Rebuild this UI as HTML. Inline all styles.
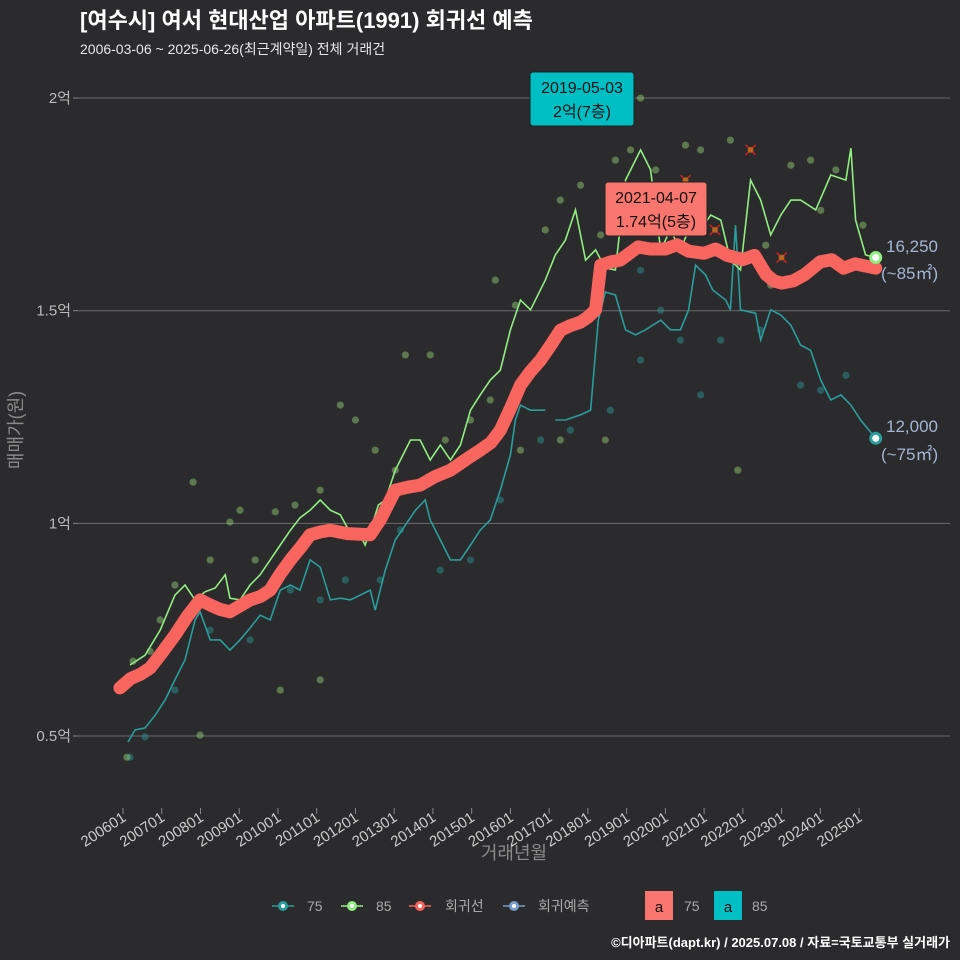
<!DOCTYPE html>
<html><head><meta charset="utf-8"><style>
body{margin:0;background:#2b2b2d;}
svg{display:block;font-family:"Liberation Sans","Noto Sans CJK KR",sans-serif;}
</style></head><body>
<svg id="chart" width="960" height="960" viewBox="0 0 960 960" xmlns="http://www.w3.org/2000/svg">
<rect width="960" height="960" fill="#2b2b2d"/>
<text x="80" y="28" fill="#ffffff" font-size="22" font-weight="bold">[여수시] 여서 현대산업 아파트(1991) 회귀선 예측</text>
<text x="80" y="54" fill="#e6e6e6" font-size="14">2006-03-06 ~ 2025-06-26(최근계약일) 전체 거래건</text>
<text transform="translate(22,430) rotate(-90)" text-anchor="middle" fill="#8a8a8a" font-size="18">매매가(원)</text>
<text x="514" y="859" text-anchor="middle" fill="#8a8a8a" font-size="18">거래년월</text>
<g id="grid"></g>
<g id="yaxis"></g>
<g id="xaxis"></g>
<g id="marks"></g>
<g id="legend" font-size="14">
  <g>
    <line x1="272" y1="906" x2="294" y2="906" stroke="#2a9d9d" stroke-width="1.5"/><circle cx="283" cy="906" r="5" fill="#2a9d9d"/><circle cx="283" cy="906" r="2" fill="#fff"/>
    <text x="307" y="911" fill="#aaa">75</text></g>
  <g>
    <line x1="341" y1="906" x2="363" y2="906" stroke="#90ee80" stroke-width="1.5"/><circle cx="352" cy="906" r="5" fill="#90ee80"/><circle cx="352" cy="906" r="2" fill="#fff"/>
    <text x="376" y="911" fill="#aaa">85</text></g>
  <g>
    <line x1="409" y1="906" x2="431" y2="906" stroke="#f8645e" stroke-width="1.5"/><circle cx="420" cy="906" r="5" fill="#f8645e"/><circle cx="420" cy="906" r="2" fill="#fff"/>
    <text x="445" y="911" fill="#aaa">회귀선</text></g>
  <g>
    <line x1="503" y1="906" x2="525" y2="906" stroke="#7b9cc8" stroke-width="1.5"/><circle cx="514" cy="906" r="5" fill="#7b9cc8"/><circle cx="514" cy="906" r="2" fill="#fff"/>
    <text x="538" y="911" fill="#aaa">회귀예측</text></g>
  <g>
    <rect x="645" y="891" width="28" height="29" fill="#f8766d"/><text x="659" y="912" text-anchor="middle" fill="#111" font-size="15">a</text>
    <text x="684" y="911" fill="#aaa">75</text></g>
  <g>
    <rect x="714" y="891" width="28" height="29" fill="#00bfc4"/><text x="728" y="912" text-anchor="middle" fill="#111" font-size="15">a</text>
    <text x="752" y="911" fill="#aaa">85</text></g>
</g>
<text x="950" y="947" text-anchor="end" fill="#ffffff" font-size="13" font-weight="bold">©디아파트(dapt.kr) / 2025.07.08 / 자료=국토교통부 실거래가</text>
</svg>
<script>
const yTicks=[5000,10000,15000,20000];
const yTickLabels=["0.5억","1억","1.5억","2억"];
const xTickYears=[2006,2007,2008,2009,2010,2011,2012,2013,2014,2015,2016,2017,2018,2019,2020,2021,2022,2023,2024,2025];
const regDates=[2005.92,2006.20,2006.45,2006.70,2007.00,2007.34,2007.65,2007.99,2008.25,2008.50,2008.76,2009.00,2009.28,2009.55,2009.80,2010.05,2010.32,2010.60,2010.83,2011.10,2011.35,2011.80,2012.38,2012.64,2013.03,2013.35,2013.67,2014.05,2014.45,2014.85,2015.22,2015.50,2015.74,2016.00,2016.26,2016.50,2016.78,2017.05,2017.29,2017.55,2017.81,2018.00,2018.20,2018.33,2018.60,2018.84,2019.00,2019.30,2019.60,2020.00,2020.30,2020.60,2021.00,2021.30,2021.60,2022.00,2022.30,2022.60,2022.80,2023.00,2023.30,2023.60,2024.00,2024.30,2024.60,2024.90,2025.43];
const regVals=[6130,6350,6450,6600,6950,7370,7800,8200,8080,7980,7920,8050,8200,8280,8430,8800,9140,9450,9730,9800,9840,9760,9730,10080,10780,10850,10900,11100,11250,11500,11720,11900,12190,12700,13250,13550,13840,14200,14540,14650,14730,14850,15020,16070,16150,16190,16300,16500,16450,16450,16550,16400,16350,16450,16300,16200,16300,15850,15700,15650,15700,15850,16150,16200,16000,16100,16000];
const g85Dates=[2006.18,2006.57,2006.96,2007.34,2007.60,2007.86,2008.12,2008.38,2008.64,2008.76,2009.02,2009.28,2009.54,2009.80,2010.06,2010.32,2010.57,2010.83,2011.09,2011.35,2011.61,2011.87,2012.12,2012.25,2012.43,2012.59,2012.77,2013.03,2013.16,2013.42,2013.67,2013.93,2014.19,2014.45,2014.71,2014.97,2015.22,2015.48,2015.74,2016.0,2016.26,2016.52,2016.90,2017.16,2017.42,2017.68,2017.94,2018.20,2018.45,2018.71,2018.97,2019.36,2019.62,2019.88,2020.13,2020.39,2020.65,2020.91,2021.17,2021.43,2021.68,2021.94,2022.20,2022.46,2022.72,2022.98,2023.24,2023.49,2023.88,2024.27,2024.66,2024.79,2024.91,2025.17,2025.43];
const g85Vals=[6670,6900,7490,8310,8550,8200,8390,8480,8790,8240,8200,8550,8790,9140,9490,9840,10130,10310,10550,10310,10200,9770,9730,9490,9960,10430,10550,11250,11490,11960,11960,11490,11840,11490,11840,12660,13020,13370,13600,14550,15250,15020,15720,16310,16660,17370,16190,16430,16000,15960,18070,18780,18310,16430,16900,16430,17010,16900,17250,17130,16190,15960,18070,17600,16780,17250,17600,17600,17370,18190,18070,18820,17130,16310,16250];
const t75Dates=[2006.13,2006.31,2006.57,2006.83,2007.09,2007.34,2007.60,2007.86,2007.99,2008.25,2008.51,2008.76,2009.02,2009.28,2009.54,2009.80,2010.06,2010.32,2010.57,2010.83,2011.09,2011.35,2011.61,2011.87,2012.12,2012.38,2012.51,2012.64,2012.77,2013.03,2013.29,2013.55,2013.80,2013.93,2014.19,2014.45,2014.71,2014.97,2015.22,2015.48,2015.74,2016.0,2016.13,2016.26,2016.52,2016.90,2017.03,2017.16,2017.42,2017.81,2018.07,2018.27,2018.45,2018.71,2018.97,2019.23,2019.49,2019.88,2020.13,2020.39,2020.60,2020.78,2021.04,2021.22,2021.56,2021.68,2021.81,2021.94,2022.33,2022.46,2022.72,2022.98,2023.24,2023.49,2023.75,2024.01,2024.27,2024.53,2024.79,2025.04,2025.43];
const t75Vals=[4860,5140,5190,5490,5850,6320,6790,7730,7920,7260,7260,7020,7260,7540,7840,7730,8430,8550,8430,9140,8970,8200,8240,8200,8310,8430,7960,8430,8900,9610,9960,10310,10550,10080,9610,9140,9140,9490,9840,10080,10780,11610,12430,12780,12660,12660,null,12430,12430,12550,12660,14780,15440,15370,14550,14430,14550,14780,14550,14550,15020,16070,15840,15490,15250,15020,17010,15020,14940,14310,15020,14900,14660,14190,14070,13370,12900,13020,12780,12430,12000];
const s85Dates=[2006.26,2006.70,2006.96,2007.34,2007.81,2008.25,2008.76,2009.02,2009.41,2009.93,2010.44,2011.09,2011.61,2012.0,2012.51,2013.03,2013.29,2013.93,2014.32,2014.97,2015.48,2015.61,2016.13,2016.90,2017.29,2017.81,2018.45,2018.71,2019.10,2019.36,2019.75,2020.52,2020.91,2021.68,2021.87,2022.59,2023.24,2023.75,2024.40,2025.10,2007.99,2010.06,2011.09,2006.10,2016.26,2017.29,2018.33,2020.91,2022.72,2024.01];
const s85Vals=[6760,6990,7730,8550,10970,9140,10030,10310,9140,10270,10430,10780,12780,12430,11720,11250,13960,13960,11960,12430,12900,15720,15130,16900,17600,17950,11960,18540,18780,20000,18310,18890,18780,19010,11250,16540,18420,18540,18310,17010,5020,6080,6320,4500,11720,11960,16780,16310,15600,17360];
const s75Dates=[2006.18,2006.57,2007.34,2008.25,2009.28,2010.32,2011.09,2011.74,2012.64,2013.16,2014.19,2014.97,2015.74,2016.78,2017.55,2018.58,2019.36,2019.88,2020.39,2021.43,2022.46,2023.49,2024.01,2024.66,2019.36,2020.91];
const s75Vals=[4500,4980,6080,7490,7260,8430,8200,8670,8670,9840,8900,9140,10550,11960,12190,12660,13840,15010,14310,14310,14540,13250,13130,13480,15950,13020];
const crossDates=[2020.52,2022.20,2021.28,2023.00];
const crossVals=[18070,18780,16900,16250];

const X=y=>123+(y-2006)*38.74;
const Y=v=>736-(v-5000)*0.04253;
const NS="http://www.w3.org/2000/svg";
function mk(tag,attrs,parent){const e=document.createElementNS(NS,tag);for(const k in attrs)e.setAttribute(k,attrs[k]);parent.appendChild(e);return e;}
const grid=document.getElementById('grid'),yax=document.getElementById('yaxis'),xax=document.getElementById('xaxis'),marks=document.getElementById('marks');
yTicks.forEach((v,i)=>{
  const l=mk('line',{x1:78,x2:950,y1:Y(v),y2:Y(v),stroke:'#6a6a6a','stroke-width':1},grid);
  
  
  mk('line',{x1:73,x2:78,y1:Y(v),y2:Y(v),stroke:'#888'},yax);
  const t=mk('text',{x:71,y:Y(v)+5,'text-anchor':'end',fill:'#bbb','font-size':15},yax);
  t.textContent=yTickLabels[i];
  
  
});
xTickYears.forEach(yr=>{
  const x=X(yr);
  mk('line',{x1:x,x2:x,y1:808,y2:814,stroke:'#888'},xax);
  const t=mk('text',{transform:`translate(${x+4},820) rotate(-33)`,'text-anchor':'end',fill:'#ccc','font-size':15},xax);
  t.textContent=yr+'01';
  
  
});
function pathOf(ds,vs){let d='',pen=false;ds.forEach((t,i)=>{const v=vs[i];if(v==null){pen=false;return;}d+=(pen?'L':'M')+X(t).toFixed(1)+','+Y(v).toFixed(1);pen=true;});return d;}
s75Dates.forEach((t,i)=>{const c=mk('circle',{cx:X(t),cy:Y(s75Vals[i]),r:3.6,fill:'#2a8f8f','fill-opacity':0.5},marks);
  
  });
s85Dates.forEach((t,i)=>{const c=mk('circle',{cx:X(t),cy:Y(s85Vals[i]),r:3.6,fill:'#9bd47a','fill-opacity':0.45},marks);
  
  });
const pT=mk('path',{d:pathOf(t75Dates,t75Vals),fill:'none',stroke:'#2a9d9d','stroke-width':1.6},marks);


const pG=mk('path',{d:pathOf(g85Dates,g85Vals),fill:'none',stroke:'#90ee80','stroke-width':1.6},marks);


const pR=mk('path',{d:pathOf(regDates,regVals),fill:'none',stroke:'#f8645e','stroke-width':13,'stroke-linejoin':'round','stroke-linecap':'round'},marks);


crossDates.forEach((t,i)=>{const x=X(t),y=Y(crossVals[i]);
  const g=mk('path',{d:`M${x-5},${y-5}L${x+5},${y+5}M${x-5},${y+5}L${x+5},${y-5}`,stroke:'#d02020','stroke-width':1.5,fill:'none'},marks);
  
  
  mk('circle',{cx:x,cy:y,r:3,fill:'#c8801a','fill-opacity':0.7},marks);});
function endDot(ds,vs,col,nm){const n=ds.length-1;const c=mk('circle',{cx:X(ds[n]),cy:Y(vs[n]),r:6.5,fill:col},marks);
  
  
  mk('circle',{cx:X(ds[n]),cy:Y(vs[n]),r:3.5,fill:'#fff'},marks);}
endDot(g85Dates,g85Vals,'#90ee80','end-point-85');
endDot(t75Dates,t75Vals,'#2a9d9d','end-point-75');
function lab(x,y,s,nm){const t=mk('text',{x:x,y:y,fill:'#a3b5d3','font-size':17},marks);t.textContent=s;
  
  }
lab(886,252,'16,250','label-85-price');lab(881,279,'(~85㎡)','label-85-area');
lab(886,432,'12,000','label-75-price');lab(881,460,'(~75㎡)','label-75-area');
function note(cx,top,w,col,l1,l2,nm){const g=mk('g',{},marks);
  
  
  mk('rect',{x:cx-w/2,y:top,width:w,height:54,rx:3,fill:col,stroke:'#222','stroke-width':1},g);
  const a=mk('text',{x:cx,y:top+21,'text-anchor':'middle',fill:'#111','font-size':16},g);a.textContent=l1;
  const b=mk('text',{x:cx,y:top+45,'text-anchor':'middle',fill:'#111','font-size':16},g);b.textContent=l2;}
note(582,72,104,'#00bfc4','2019-05-03','2억(7층)','annotation-max-85');
note(656,182,102,'#f8766d','2021-04-07','1.74억(5층)','annotation-max-75');
</script>
</body></html>
